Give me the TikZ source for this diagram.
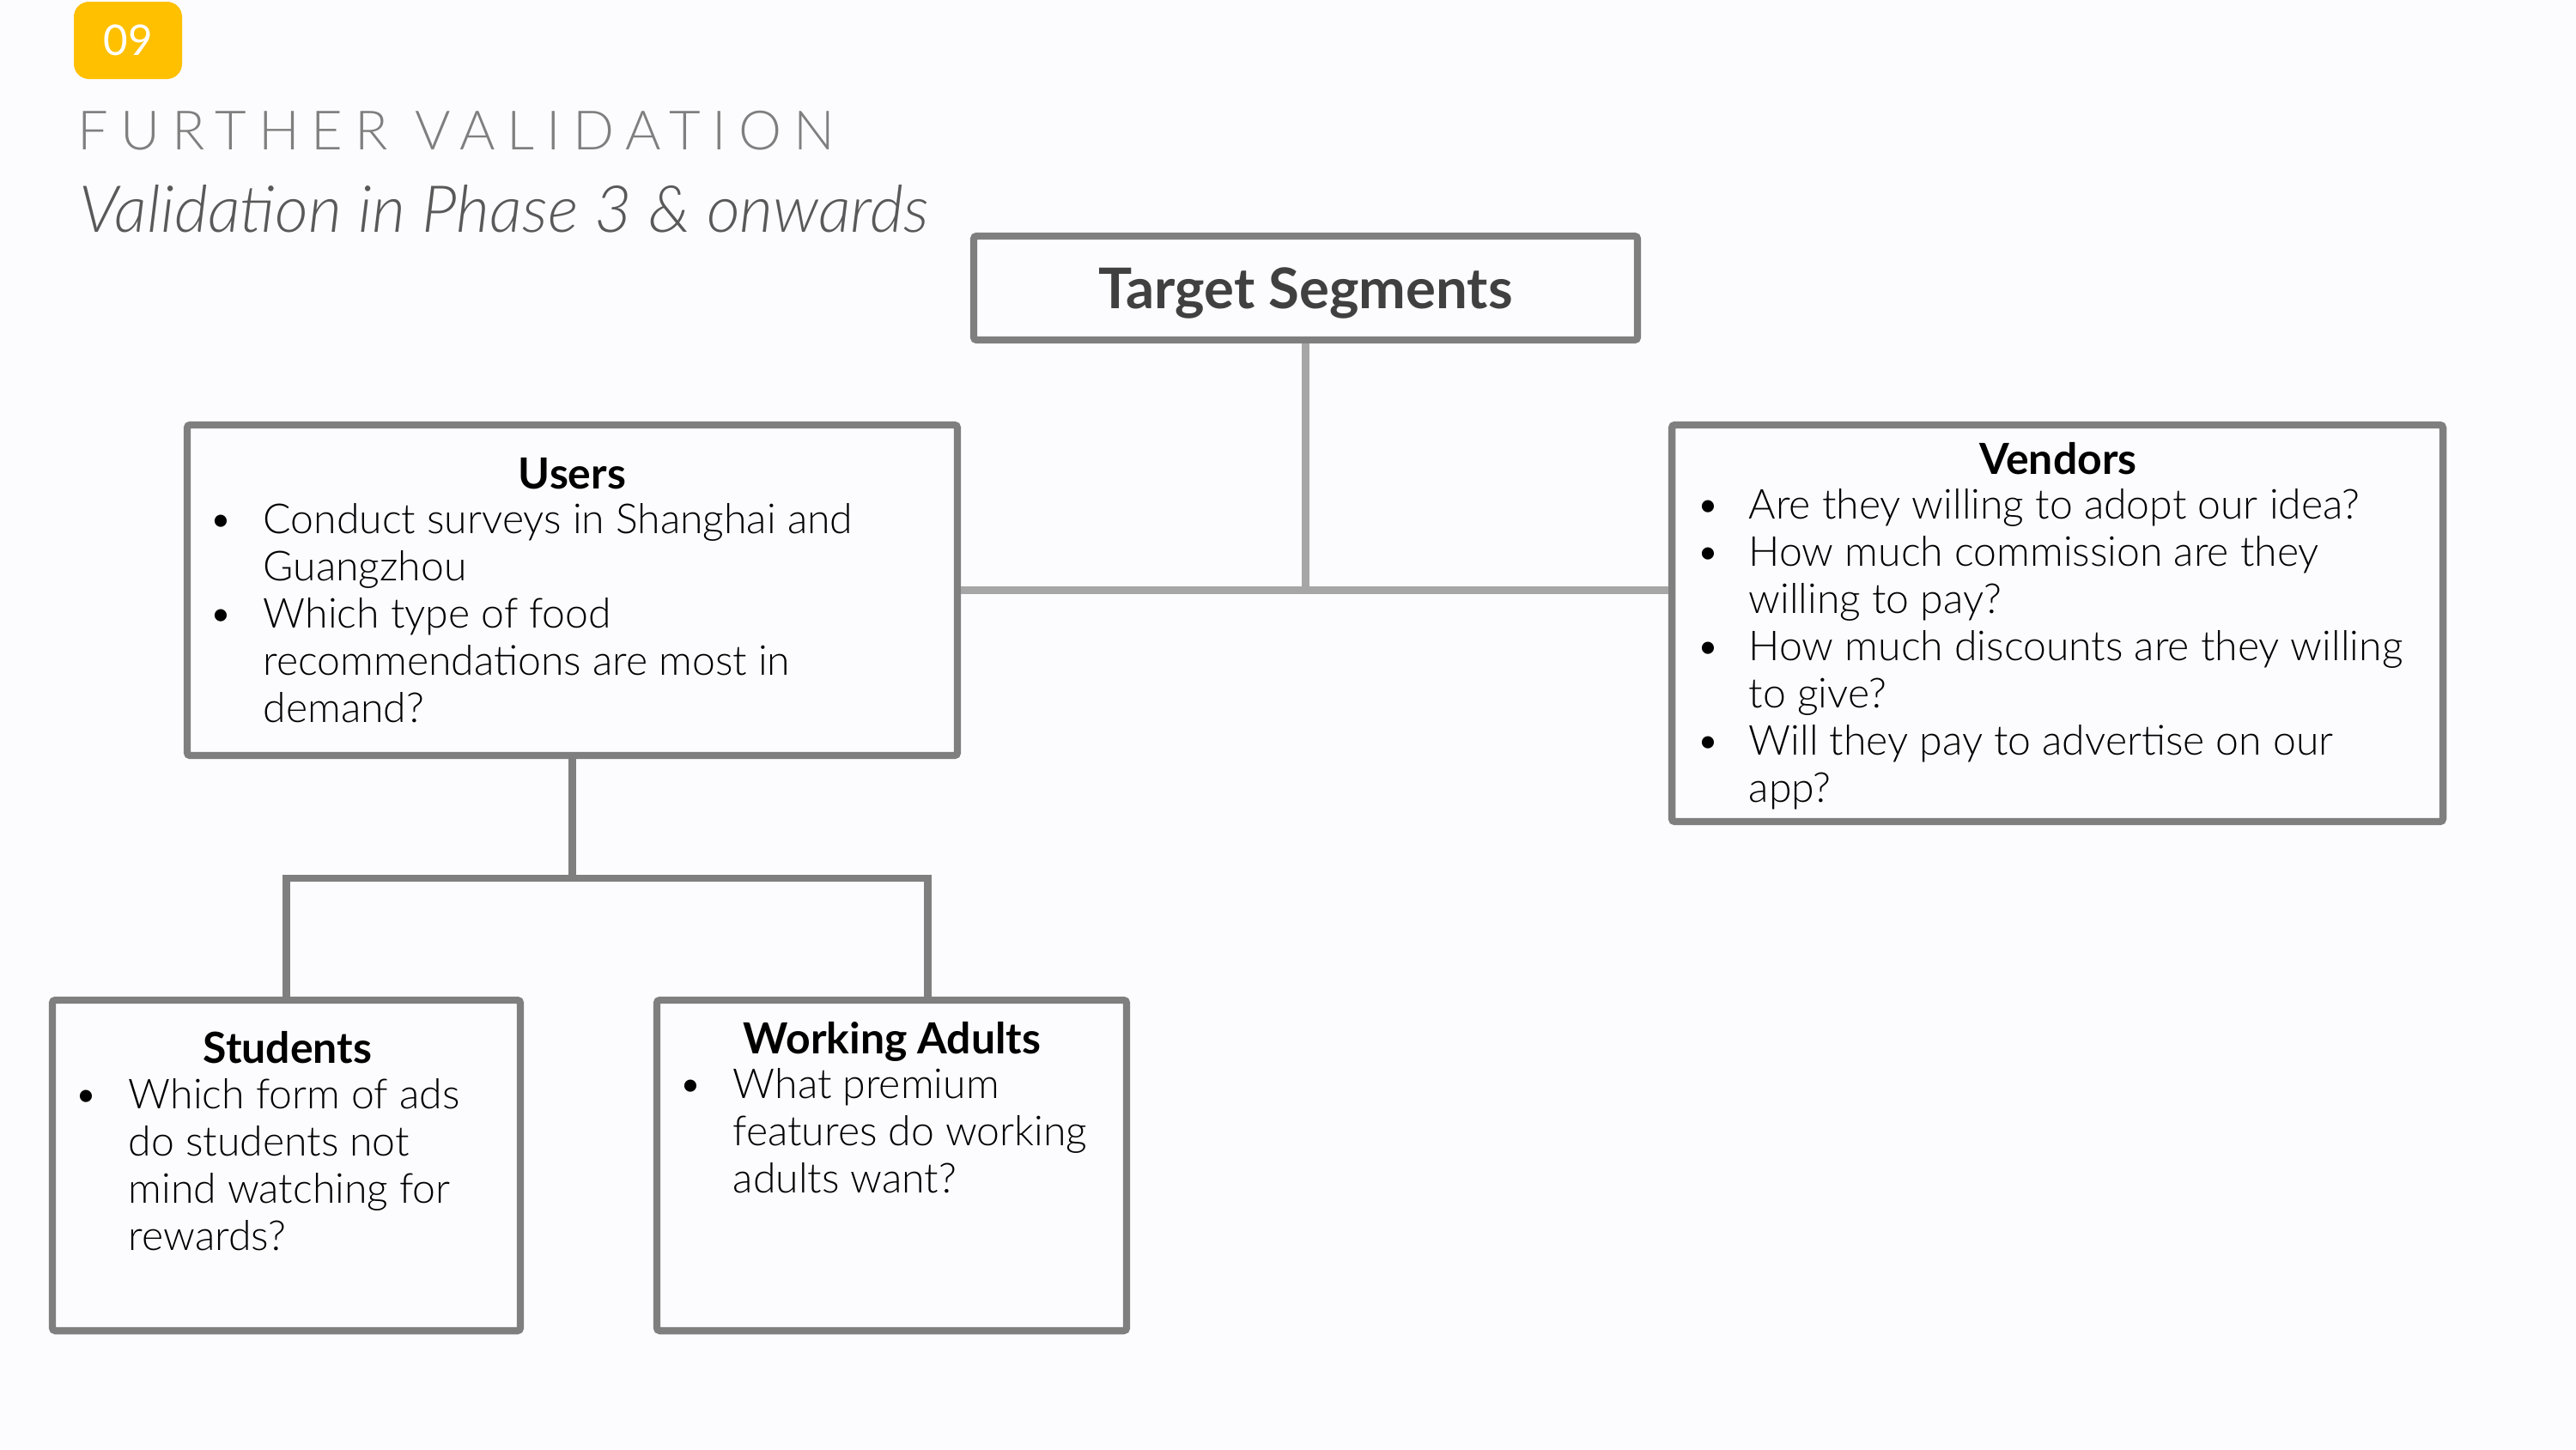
\documentclass[tikz,border=0pt]{standalone}
\usepackage{fontspec}
\setmainfont{Lato}[UprightFont=* Light, ItalicFont=* Light Italic, BoldFont=* Bold]
\newfontfamily\badgefont{Lato}
\usepackage{tikz}
\usetikzlibrary{positioning,calc}
\definecolor{badgegold}{HTML}{FFC000}
\definecolor{boxgrey}{HTML}{7F7F7F}
\definecolor{linkgrey}{HTML}{A6A6A6}
\definecolor{headgrey}{HTML}{404040}
\definecolor{subgrey}{HTML}{595959}
\definecolor{pagebg}{HTML}{FCFCFE}
\newcommand{\bodyfont}{\fontsize{13.7}{15.65}\selectfont}
\newenvironment{qlist}[1]{\begin{tabular}[t]{@{}p{#1}@{}l@{}}}{\end{tabular}}

\begin{document}
\begin{tikzpicture}[
  every node/.style={inner sep=0pt},
  segbox/.style={draw=boxgrey,line width=2.4pt,fill=pagebg,rounded corners=1pt},
  head/.style={font=\fontsize{14.2}{16}\selectfont\bfseries,anchor=base},
  items/.style={font=\bodyfont,anchor=base west,align=left},
  link/.style={draw=boxgrey,line width=2.4pt},
  toplink/.style={draw=linkgrey,line width=2.8pt}
]
\fill[pagebg] (0,0) rectangle (30,-16.88);
\useasboundingbox (0,0) rectangle (30,-16.88);

% heading
\node[fill=badgegold,rounded corners=5pt,minimum width=1.26cm,minimum height=0.9cm,
  text=white,font=\badgefont\fontsize{14}{16}\selectfont] (badge) at (1.49,-0.47) {09};
\node[anchor=base west,text=boxgrey,font=\fontsize{18}{22}\selectfont\addfontfeature{LetterSpace=22}]
  (kicker) at (0.90,-1.74) {FURTHER VALIDATION};
\node[anchor=base west,text=subgrey,font=\fontsize{21.5}{25}\selectfont\itshape]
  (subtitle) at (0.92,-2.70) {Validation in Phase 3 \& onwards};

% boxes
\node[segbox,minimum width=7.73cm,minimum height=1.21cm,text=headgrey,text depth=0pt,
  font=\fontsize{18.6}{20}\selectfont\bfseries] (target) at (15.205,-3.355) {Target Segments};
\node[segbox,minimum width=8.97cm,minimum height=3.85cm] (users) at (6.665,-6.875) {};
\node[segbox,minimum width=8.98cm,minimum height=4.62cm] (vendors) at (23.96,-7.26) {};
\node[segbox,minimum width=5.45cm,minimum height=3.85cm] (students) at (3.335,-13.575) {};
\node[segbox,minimum width=5.47cm,minimum height=3.85cm] (adults) at (10.385,-13.575) {};

% connectors
\draw[toplink] (users.east) -- (users.east -| vendors.west);
\draw[toplink] (target.south) -- (target.south |- users.east);
\draw[link] (users.south) -- ++(0,-1.39) coordinate (usplit);
\draw[link] (students.north) |- (usplit) -| ([xshift=0.42cm]adults.north);

% box texts
\node[head] (userstitle) at (6.665,-5.69) {Users};
\node[items] (userslist) at (2.43,-6.21) {\begin{qlist}{0.63cm}
  \textbullet & Conduct surveys in Shanghai and\\
   & Guangzhou\\
  \textbullet & Which type of food\\
   & recommendations are most in\\
   & demand?
\end{qlist}};
\node[head] (vendorstitle) at (23.97,-5.52) {Vendors};
\node[items] (vendorslist) at (19.75,-6.04) {\begin{qlist}{0.61cm}
  \textbullet & Are they willing to adopt our idea?\\
  \textbullet & How much commission are they\\
   & willing to pay?\\
  \textbullet & How much discounts are they willing\\
   & to give?\\
  \textbullet & Will they pay to advertise on our\\
   & app?
\end{qlist}};
\node[head] (studentstitle) at (3.35,-12.38) {Students};
\node[items] (studentslist) at (0.86,-12.91) {\begin{qlist}{0.63cm}
  \textbullet & Which form of ads\\
   & do students not\\
   & mind watching for\\
   & rewards?
\end{qlist}};
\node[head] (adultstitle) at (10.39,-12.27) {Working Adults};
\node[items] (adultslist) at (7.90,-12.79) {\begin{qlist}{0.63cm}
  \textbullet & What premium\\
   & features do working\\
   & adults want?
\end{qlist}};
\end{tikzpicture}
\end{document}
